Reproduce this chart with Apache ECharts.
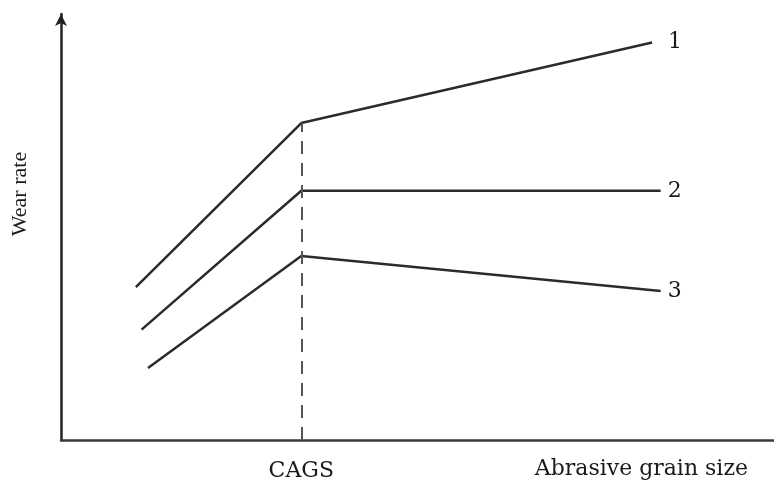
<!DOCTYPE html>
<html>
<head>
<meta charset="utf-8">
<script src="https://cdn.jsdelivr.net/npm/echarts@6/dist/echarts.min.js"></script>
<style>html,body{margin:0;padding:0;background:#fff}#c{width:774px;height:485px}</style>
</head>
<body>
<div id="c"></div>
<script>
// Schematic values (x: grain size in relative units, y: wear rate in relative units)
const seriesNames = ['1', '2', '3'];
const series1 = [[10.5, 35.9], [33.7, 74.4], [82.9, 93.3]];
const series2 = [[11.3, 25.9], [33.7, 58.5], [84.1, 58.5]];
const series3 = [[12.2, 16.9], [33.7, 43.2], [84.1, 35.0]];
const cagsX = 33.7;
const cagsLabel = 'CAGS';
const xAxisName = 'Abrasive grain size';
const yAxisName = 'Wear rate';

const font = 'DejaVu Serif';
const lineColor = '#2b2b2b';
const dists = [16, 7, 7];
const allData = [series1, series2, series3];

const chart = echarts.init(document.getElementById('c'));
chart.setOption({
  animation: false,
  grid: { left: 61, right: 0, top: 14, bottom: 45 },
  xAxis: {
    type: 'value', min: 0, max: 100,
    axisLine: { show: true, lineStyle: { color: '#3a3a3a', width: 2.5 } },
    axisTick: { show: false }, axisLabel: { show: false }, splitLine: { show: false },
    name: xAxisName, nameLocation: 'end', nameGap: -26,
    nameTextStyle: { fontFamily: font, fontSize: 22, color: '#1a1a1a', align: 'right', verticalAlign: 'top', padding: [18, 0, 0, 0] }
  },
  yAxis: {
    type: 'value', min: 0, max: 100,
    axisLine: { show: true, symbol: ['none', 'arrow'], symbolSize: [9, 12], lineStyle: { color: '#222', width: 2.5 } },
    axisTick: { show: false }, axisLabel: { show: false }, splitLine: { show: false },
    name: yAxisName, nameLocation: 'middle', nameGap: 30, nameRotate: 90,
    nameTextStyle: { fontFamily: 'Liberation Serif', fontSize: 22, color: '#1a1a1a', padding: [0, 0, 0, 66] }
  },
  series: allData.map((d, i) => ({
    name: seriesNames[i],
    type: 'line',
    data: d,
    symbol: 'none',
    lineStyle: { color: lineColor, width: 2.5 },
    endLabel: { show: true, formatter: '{a}', distance: dists[i], fontFamily: font, fontSize: 22, color: '#1a1a1a' },
    markLine: i === 0 ? {
      silent: true, symbol: 'none',
      lineStyle: { type: [13, 9], color: '#555', width: 2 },
      label: { show: true, position: 'start', formatter: cagsLabel, distance: 20, fontFamily: font, fontSize: 22, color: '#1a1a1a' },
      data: [[{ coord: [cagsX, 0] }, { coord: [cagsX, series1[1][1]] }]]
    } : undefined
  }))
});
</script>
</body>
</html>
